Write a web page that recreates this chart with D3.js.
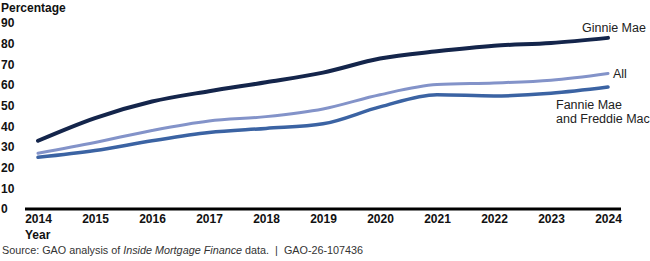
<!DOCTYPE html>
<html>
<head>
<script src="https://cdn.jsdelivr.net/npm/d3@7"></script>
<style>
  body { margin: 0; background: #fff; }
  text { font-family: "Liberation Sans", Arial, sans-serif; }
</style>
</head>
<body>
<div id="chart"></div>
<script>
  // data
  const years = [2014, 2015, 2016, 2017, 2018, 2019, 2020, 2021, 2022, 2023, 2024];
  const ginnie = [33, 44, 52, 57, 61.3, 66, 72.8, 76.3, 79, 80.3, 82.8];
  const all = [27, 32.2, 38, 42.6, 44.7, 48.4, 55.3, 60.2, 61, 62.3, 65.6];
  const fannie = [25, 28.3, 33, 37, 39, 41.2, 49.4, 55.3, 54.7, 56, 59];
  const yTicks = [0, 10, 20, 30, 40, 50, 60, 70, 80, 90];

  const series = [
    { name: "Ginnie Mae", values: ginnie, color: "#14254b", w: 4 },
    { name: "All", values: all, color: "#8393c9", w: 3 },
    { name: "Fannie Mae", values: fannie, color: "#3b63a3", w: 3.5 }
  ];

  const W = 650, H = 261;
  const svg = d3.select("#chart").append("svg")
    .attr("width", W).attr("height", H);

  const x = d3.scaleLinear().domain([2014, 2024]).range([38, 608]);
  const y = d3.scaleLinear().domain([0, 90]).range([209, 23]);

  // y axis labels, left aligned
  const yAxis = svg.append("g")
    .attr("transform", "translate(1,0)")
    .call(d3.axisLeft(y).tickValues(yTicks).tickSize(0).tickFormat(d3.format("d")));
  yAxis.select(".domain").remove();
  yAxis.selectAll("text")
    .attr("x", 0)
    .attr("text-anchor", "start")
    .attr("font-size", 12)
    .attr("font-weight", "bold")
    .attr("fill", "#111")
    .attr("font-family", "Liberation Sans, Arial, sans-serif");

  // x axis
  const xAxis = svg.append("g")
    .attr("transform", "translate(0,209)")
    .call(d3.axisBottom(x).tickValues(years).tickSize(0).tickFormat(d3.format("d")));
  xAxis.select(".domain").remove();
  xAxis.selectAll("text")
    .attr("y", 5)
    .attr("font-size", 12)
    .attr("font-weight", "bold")
    .attr("fill", "#111")
    .attr("font-family", "Liberation Sans, Arial, sans-serif");

  svg.append("line")
    .attr("x1", 25).attr("x2", 621)
    .attr("y1", y(0)).attr("y2", y(0))
    .attr("stroke", "#000").attr("stroke-width", 3);

  const line = d3.line()
    .x((d, i) => x(years[i]))
    .y(d => y(d))
    .curve(d3.curveMonotoneX);

  svg.selectAll("path.series")
    .data(series)
    .join("path")
    .attr("class", "series")
    .attr("d", d => line(d.values))
    .attr("fill", "none")
    .attr("stroke", d => d.color)
    .attr("stroke-width", d => d.w)
    .attr("stroke-linecap", "round");

  // titles
  svg.append("text").attr("x", 1).attr("y", 12)
    .attr("font-size", 12).attr("font-weight", "bold").attr("fill", "#111")
    .text("Percentage");
  svg.append("text").attr("x", 25).attr("y", 239)
    .attr("font-size", 12).attr("font-weight", "bold").attr("fill", "#111")
    .text("Year");

  // series labels
  const lab = svg.append("g").attr("font-size", 12.5).attr("fill", "#222");
  lab.append("text").attr("x", 582).attr("y", 32).text("Ginnie Mae");
  lab.append("text").attr("x", 613).attr("y", 78).text("All");
  lab.append("text").attr("x", 556).attr("y", 109).text("Fannie Mae");
  lab.append("text").attr("x", 556).attr("y", 123).text("and Freddie Mac");

  // source note
  const src = svg.append("text").attr("x", 2).attr("y", 254)
    .attr("font-size", 10.8).attr("fill", "#333")
    .style("white-space", "pre");
  src.append("tspan").text("Source: GAO analysis of ");
  src.append("tspan").attr("font-style", "italic").text("Inside Mortgage Finance");
  src.append("tspan").text(" data.  |  GAO-26-107436");
</script>
</body>
</html>
